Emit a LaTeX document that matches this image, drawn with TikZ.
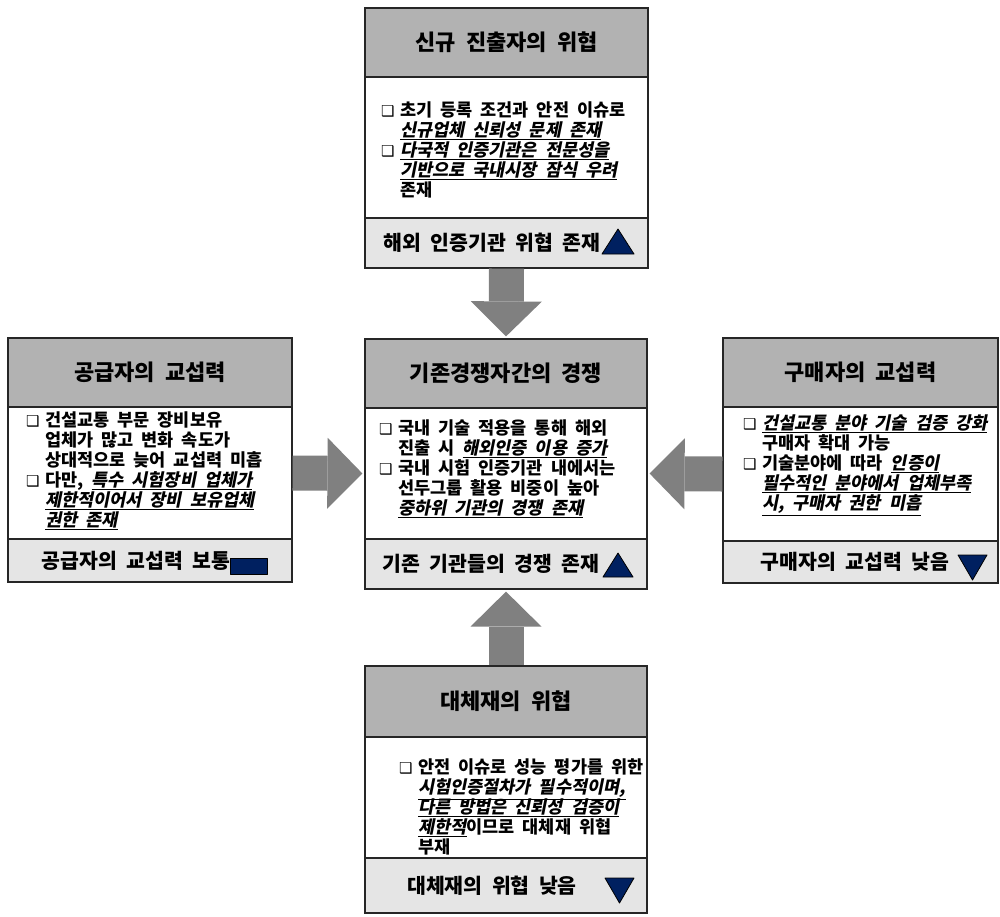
\documentclass[tikz,border=0pt]{standalone}
\usepackage{fontspec}
\setmainfont{Noto Sans CJK KR}[WordSpace=2]
\newfontfamily\slantkr{Noto Sans CJK KR}[FakeSlant=0.2,WordSpace=2]
\newfontfamily\dejavu{DejaVu Sans}
\usetikzlibrary{arrows.meta}
\definecolor{headgray}{RGB}{178,178,178}
\definecolor{footgray}{RGB}{229,229,229}
\definecolor{arrowgray}{RGB}{128,128,128}
\definecolor{navy}{RGB}{0,32,96}
\setlength{\lineskiplimit}{-20pt}

\newcommand{\sqbullet}{\makebox[19pt][l]{\dejavu\fontsize{15}{15}\selectfont ❑}}
\newcommand{\bodyindent}{\hspace*{19pt}}
\newcommand{\emp}[1]{\underline{\slantkr #1}}

\tikzset{
  headbox/.style={draw=black!85, line width=1.2pt, fill=headgray, inner sep=0pt,
    font=\bfseries\fontsize{22}{24}\selectfont},
  bodybox/.style={draw=black!85, line width=1.2pt, fill=white, inner sep=0pt},
  footbox/.style={draw=black!85, line width=1.2pt, fill=footgray, inner sep=0pt},
  bodytext/.style={anchor=north west, inner sep=0pt, align=left,
    font=\bfseries\fontsize{17.5}{20}\selectfont},
  foottext/.style={inner sep=0pt, font=\bfseries\fontsize{20.5}{24}\selectfont},
  bigarrow/.style={draw=arrowgray, line width=35pt, shorten >=2pt,
    -{Triangle[width=71pt,length=35pt,line width=0pt]}},
  updown/.style={fill=navy, draw=black, line width=0.8pt, line join=round}
}

\begin{document}
\begin{tikzpicture}[x=1pt,y=-1pt]
\useasboundingbox (0,0) rectangle (1000,916);

% threat of new entrants
\node[headbox, minimum width=283pt, minimum height=69pt] (entryhead) at (506.5,42.5) {신규 진출자의 위협};
\node[bodybox, minimum width=283pt, minimum height=141pt] (entrybody) at (506.5,147.5) {};
\node[footbox, minimum width=283pt, minimum height=50pt] (entryfoot) at (506.5,243) {};
\node[bodytext] (entrytext) at (381,101.5) {\sqbullet 초기 등록 조건과 안전 이슈로\\
  \bodyindent\emp{신규업체 신뢰성 문제 존재}\\
  \sqbullet\emp{다국적 인증기관은 전문성을}\\
  \bodyindent\emp{기반으로 국내시장 잠식 우려}\\
  \bodyindent 존재};
\node[foottext] (entrystate) at (492,243) {해외 인증기관 위협 존재};
\filldraw[updown] (602,254) -- (634,254) -- (618,229) -- cycle;

% rivalry among existing competitors
\node[headbox, minimum width=282pt, minimum height=69pt] (rivalhead) at (506,373.5) {기존경쟁자간의 경쟁};
\node[bodybox, minimum width=282pt, minimum height=131pt] (rivalbody) at (506,473.5) {};
\node[footbox, minimum width=282pt, minimum height=50pt] (rivalfoot) at (506,564) {};
\node[bodytext] (rivaltext) at (379,419.5) {\sqbullet 국내 기술 적용을 통해 해외\\
  \bodyindent 진출 시 \emp{해외인증 이용 증가}\\
  \sqbullet 국내 시험 인증기관 내에서는\\
  \bodyindent 선두그룹 활용 비중이 높아\\
  \bodyindent\emp{중하위 기관의 경쟁 존재}};
\node[foottext] (rivalstate) at (491,564) {기존 기관들의 경쟁 존재};
\filldraw[updown] (603,577) -- (633,577) -- (618,553) -- cycle;

% bargaining power of suppliers
\node[headbox, minimum width=284pt, minimum height=69pt] (supplyhead) at (150,372.5) {공급자의 교섭력};
\node[bodybox, minimum width=284pt, minimum height=132pt] (supplybody) at (150,473) {};
\node[footbox, minimum width=284pt, minimum height=43pt] (supplyfoot) at (150,560.5) {};
\node[bodytext] (supplytext) at (26,411.5) {\sqbullet 건설교통 부문 장비보유\\
  \bodyindent 업체가 많고 변화 속도가\\
  \bodyindent 상대적으로 늦어 교섭력 미흡\\
  \sqbullet 다만, \emp{특수 시험장비 업체가}\\
  \bodyindent\emp{제한적이어서 장비 보유업체}\\
  \bodyindent\emp{권한 존재}};
\node[foottext] (supplystate) at (136,560.5) {공급자의 교섭력 보통};
\filldraw[updown] (230,558) rectangle (267,574);

% bargaining power of buyers
\node[headbox, minimum width=275pt, minimum height=69pt] (buyerhead) at (860.5,372.5) {구매자의 교섭력};
\node[bodybox, minimum width=275pt, minimum height=134pt] (buyerbody) at (860.5,474) {};
\node[footbox, minimum width=275pt, minimum height=42pt] (buyerfoot) at (860.5,562) {};
\node[bodytext] (buyertext) at (743,414.5) {\sqbullet\emp{건설교통 분야 기술 검증 강화}\\
  \bodyindent 구매자 확대 가능\\
  \sqbullet 기술분야에 따라 \emp{인증이}\\
  \bodyindent\emp{필수적인 분야에서 업체부족}\\
  \bodyindent\emp{시, 구매자 권한 미흡}};
\node[foottext] (buyerstate) at (855,562) {구매자의 교섭력 낮음};
\filldraw[updown] (958,555) -- (987,555) -- (972.5,580) -- cycle;

% threat of substitutes
\node[headbox, minimum width=282pt, minimum height=71pt] (substhead) at (506,701.5) {대체재의 위협};
\node[bodybox, minimum width=282pt, minimum height=121pt] (substbody) at (506,797.5) {};
\node[footbox, minimum width=282pt, minimum height=55pt] (substfoot) at (506,885.5) {};
\node[bodytext] (substtext) at (399,758.5) {\sqbullet 안전 이슈로 성능 평가를 위한\\
  \bodyindent\emp{시험인증절차가 필수적이며,}\\
  \bodyindent\emp{다른 방법은 신뢰성 검증이}\\
  \bodyindent\emp{제한적}이므로 대체재 위협\\
  \bodyindent 부재};
\node[foottext] (substate) at (492,885.5) {대체재의 위협 낮음};
\filldraw[updown] (605,878) -- (634,878) -- (619.5,903) -- cycle;

% forces pointing at the centre
\draw[bigarrow] (entryfoot.south) -- (rivalhead.north);
\draw[bigarrow] (supplybody.east) -- (rivalbody.west);
\draw[bigarrow] (buyerbody.west) -- (rivalbody.east);
\draw[bigarrow] (substhead.north) -- (rivalfoot.south);

\end{tikzpicture}
\end{document}
